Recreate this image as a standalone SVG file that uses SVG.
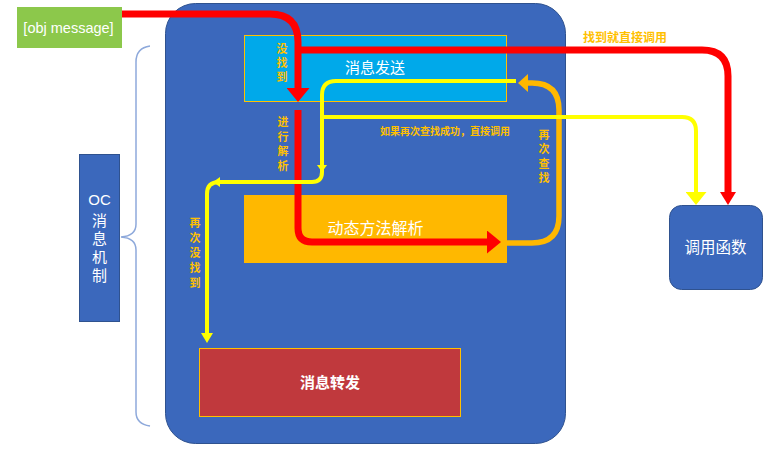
<svg xmlns="http://www.w3.org/2000/svg" width="773" height="452" viewBox="0 0 773 452">
  <style>
    .cjk { font-family: "Noto Sans CJK SC", "Liberation Sans", sans-serif; }
    .white { fill: #ffffff; }
    .note { fill: #FFC000; font-weight: bold; font-size: 11px; }
    .vert { writing-mode: vertical-rl; text-orientation: upright; }
    .red { fill: none; stroke: #FF0000; stroke-width: 7; }
    .yellow { fill: none; stroke: #FFFF00; stroke-width: 4; }
    .orange { fill: none; stroke: #FFB800; stroke-width: 5.5; }
  </style>
  <defs>
    <marker id="headRed" markerUnits="userSpaceOnUse" markerWidth="14" markerHeight="23" refX="0" refY="11.5" orient="auto">
      <path d="M0,0 L14,11.5 L0,23 Z" fill="#FF0000"/>
    </marker>
    <marker id="headRedSlim" markerUnits="userSpaceOnUse" markerWidth="13" markerHeight="16" refX="0" refY="8" orient="auto">
      <path d="M0,0 L13,8 L0,16 Z" fill="#FF0000"/>
    </marker>
    <marker id="headOrange" markerUnits="userSpaceOnUse" markerWidth="10" markerHeight="18" refX="0" refY="9" orient="auto">
      <path d="M0,0 L10,9 L0,18 Z" fill="#FFB800"/>
    </marker>
    <marker id="headYellowSmall" markerUnits="userSpaceOnUse" markerWidth="7" markerHeight="10" refX="0" refY="5" orient="auto">
      <path d="M0,0 L7,5 L0,10 Z" fill="#FFFF00"/>
    </marker>
    <marker id="headYellow" markerUnits="userSpaceOnUse" markerWidth="10" markerHeight="12" refX="0" refY="6" orient="auto">
      <path d="M0,0 L10,6 L0,12 Z" fill="#FFFF00"/>
    </marker>
    <marker id="headYellowBig" markerUnits="userSpaceOnUse" markerWidth="13" markerHeight="21" refX="0" refY="10.5" orient="auto">
      <path d="M0,0 L13,10.5 L0,21 Z" fill="#FFFF00"/>
    </marker>
  </defs>

  <!-- runtime container -->
  <g id="runtime">
    <rect x="165.5" y="3.5" width="400" height="440" rx="30" fill="#3B68BC" stroke="#2F528F" stroke-width="1"/>
  </g>

  <!-- brace grouping the mechanism -->
  <g id="brace">
    <path d="M150,46 Q136,48 136,62 V224 Q136,236 121,237 Q136,238 136,250 V412 Q136,424 150,426" fill="none" stroke="#8EA9DB" stroke-width="1.5"/>
  </g>

  <g id="oc-label">
    <rect x="79.5" y="154.5" width="40" height="167" fill="#3B68BC" stroke="#2F528F" stroke-width="1"/>
    <text x="99.5" y="205" font-family="Liberation Sans, sans-serif" font-size="15" fill="#ffffff" text-anchor="middle">OC</text>
    <text x="99.5" y="212.5" class="cjk white vert" font-size="15" letter-spacing="3.4">消息机制</text>
  </g>

  <g id="obj-message">
    <rect x="17" y="7" width="105" height="41" fill="#8CC84B"/>
    <text x="68.5" y="32.5" font-family="Liberation Sans, sans-serif" font-size="14.5" fill="#ffffff" text-anchor="middle">[obj message]</text>
  </g>

  <g id="send">
    <rect x="244.5" y="35.5" width="262" height="66" fill="#00A9EA" stroke="#FFC000" stroke-width="1"/>
    <text x="375" y="73" class="cjk white" font-size="15" text-anchor="middle">消息发送</text>
  </g>

  <g id="resolve">
    <rect x="244" y="195" width="263" height="68" fill="#FFB800"/>
    <text x="375.5" y="234" class="cjk white" font-size="16" text-anchor="middle">动态方法解析</text>
  </g>

  <g id="forward">
    <rect x="199.5" y="348.5" width="261" height="68" fill="#C0393D" stroke="#FFC000" stroke-width="1"/>
    <text x="330" y="387.5" class="cjk white" font-size="15" font-weight="bold" text-anchor="middle">消息转发</text>
  </g>

  <g id="call">
    <rect x="669.5" y="205.5" width="93" height="84" rx="12" fill="#3B68BC" stroke="#2F528F" stroke-width="1"/>
    <text x="715.5" y="252.5" class="cjk white" font-size="15.5" text-anchor="middle">调用函数</text>
  </g>

  <!-- connectors -->
  <g id="connectors">
    <path class="red" d="M122,14 H270 Q298,14 298,42 V88" marker-end="url(#headRed)"/>
    <path class="red" stroke-width="6" d="M298,50 H702 Q728,50 728,76 V192" marker-end="url(#headRedSlim)"/>
    <path class="red" stroke-width="6.5" d="M298,110 V228 Q298,242 312,242 H487" marker-end="url(#headRed)"/>
    <path class="orange" d="M507,243 H532 Q559,243 559,216 V110 Q559,83 532,83 H528" marker-end="url(#headOrange)"/>
    <path class="yellow" d="M516,81 H336 Q322,81 322,95 V165" marker-end="url(#headYellowSmall)"/>
    <path class="yellow" d="M322,166 V172 Q322,182 312,182 H220" marker-end="url(#headYellowSmall)"/>
    <path class="yellow" d="M219,182 Q207,182 207,194 V333" marker-end="url(#headYellow)"/>
    <path class="yellow" d="M322,117 H682 Q696,117 696,131 V192" marker-end="url(#headYellowBig)"/>
  </g>

  <!-- connector labels -->
  <g id="labels" class="cjk note">
    <text x="282" y="43.5" class="vert" letter-spacing="3">没找到</text>
    <text x="283" y="116.5" class="vert" letter-spacing="3.5">进行解析</text>
    <text x="195" y="217.5" class="vert" letter-spacing="4">再次没找到</text>
    <text x="544" y="129.5" class="vert" letter-spacing="3.3">再次查找</text>
    <text x="445" y="135" font-size="10" text-anchor="middle">如果再次查找成功，直接调用</text>
    <text x="625" y="42" font-size="12" text-anchor="middle">找到就直接调用</text>
  </g>
</svg>
